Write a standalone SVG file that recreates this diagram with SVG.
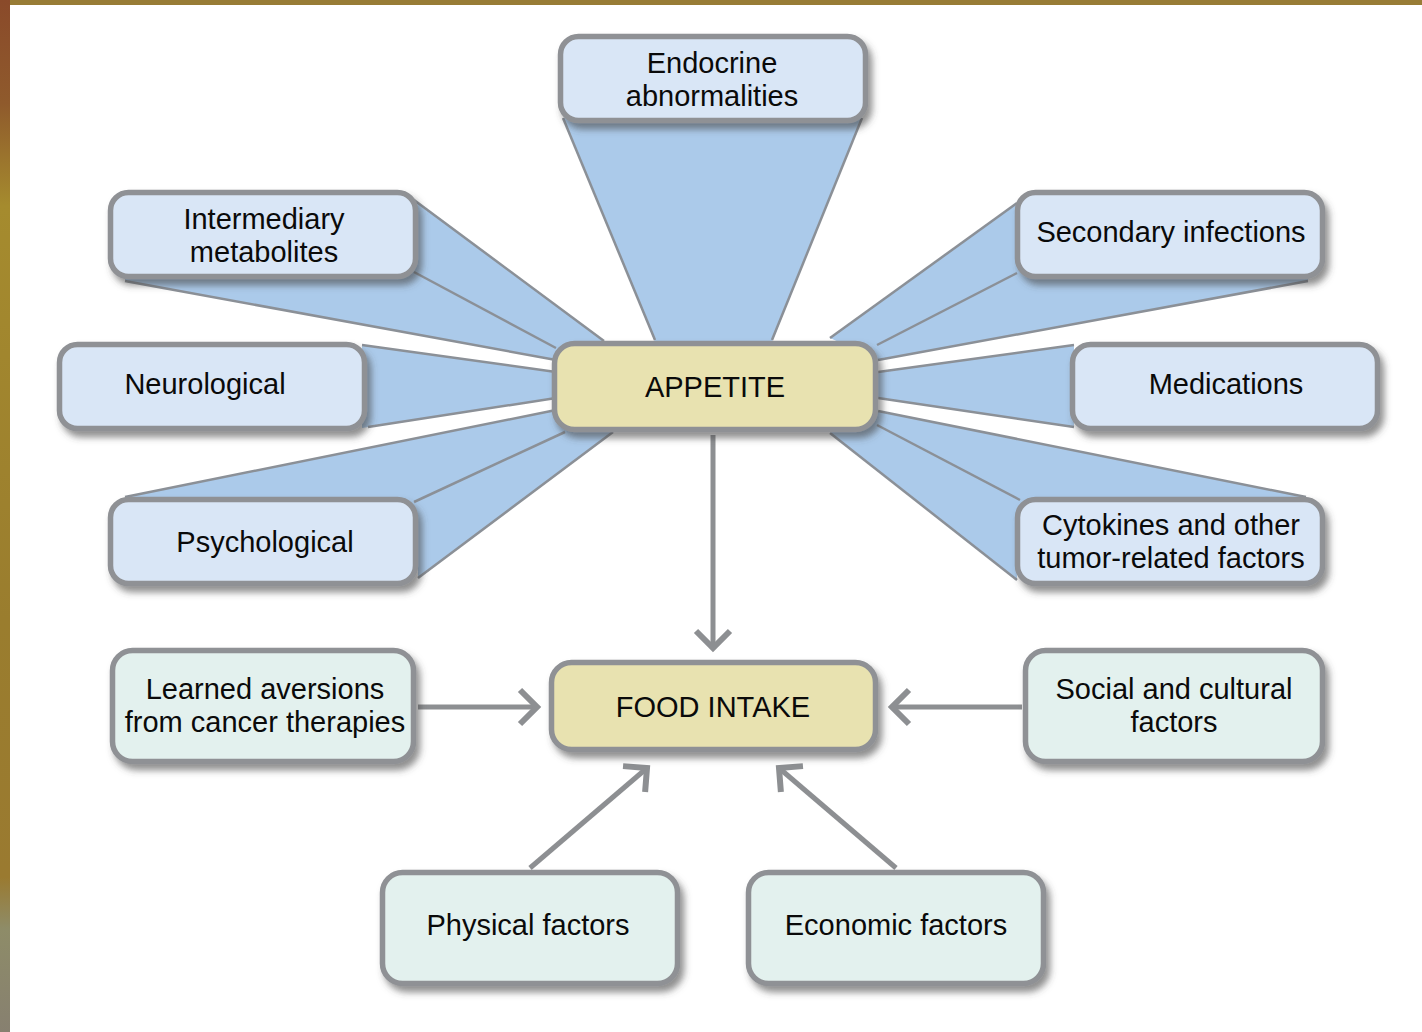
<svg xmlns="http://www.w3.org/2000/svg" width="1422" height="1032" viewBox="0 0 1422 1032">
<defs>
<style>
.box{stroke:#8f9195;stroke-width:5.5;filter:url(#sh)}
.blue{fill:#d9e6f6}
.tan{fill:#e8e2b0}
.mint{fill:#e3f1ee}
.fan{fill:#abcaea}
.edge{stroke:#8b9097;stroke-width:2.5;fill:none}
.arr{stroke:#8d8f92;stroke-width:5;fill:none;marker-end:url(#chev)}
text{font-family:"Liberation Sans",Arial,sans-serif;font-size:29px;fill:#0a0a0a;text-anchor:middle}
</style>
<filter id="sh" x="-10%" y="-20%" width="130%" height="150%">
<feDropShadow dx="4" dy="6" stdDeviation="3.5" flood-color="#444" flood-opacity="0.6"/>
</filter>
<marker id="chev" markerUnits="userSpaceOnUse" viewBox="-24 -24 48 48" markerWidth="48" markerHeight="48" refX="0" refY="0" orient="auto">
<path d="M-17,-17 L0,0 L-17,17" fill="none" stroke="#8d8f92" stroke-width="6"/>
</marker>
<linearGradient id="lb" x1="0" y1="0" x2="0" y2="1">
<stop offset="0" stop-color="#8a4a2a"/>
<stop offset="0.1" stop-color="#8f5a2c"/>
<stop offset="0.2" stop-color="#a58b2e"/>
<stop offset="0.6" stop-color="#9a7d2e"/>
<stop offset="0.85" stop-color="#9a7a30"/>
<stop offset="0.9" stop-color="#8e8c68"/>
<stop offset="1" stop-color="#878070"/>
</linearGradient>
</defs>
<rect x="0" y="0" width="1422" height="1032" fill="#ffffff"/>
<rect x="0" y="0" width="1422" height="5" fill="#987c36"/>
<rect x="0" y="0" width="10" height="1032" fill="url(#lb)"/>

<g id="fans">
<polygon class="fan" points="563,118 862,118 772,342 655,342"/>
<polygon class="fan" points="414,200 604,341 556,360 125,281 125,240 414,240"/>
<polygon class="fan" points="362,345 556,372 556,398 362,428"/>
<polygon class="fan" points="125,497 556,410 613,432 418,578 418,540 125,540"/>
<polygon class="fan" points="1017,203 830,338 878,360 1308,281 1308,240 1017,240"/>
<polygon class="fan" points="1074,345 878,372 878,398 1074,427"/>
<polygon class="fan" points="1306,497 878,411 830,433 1017,580 1017,540 1306,540"/>
<g class="edge">
<line x1="563" y1="118" x2="655" y2="340"/>
<line x1="862" y1="118" x2="772" y2="340"/>
<line x1="414" y1="200" x2="604" y2="341"/>
<line x1="414" y1="272" x2="556" y2="348"/>
<line x1="125" y1="281" x2="556" y2="360"/>
<line x1="362" y1="345" x2="556" y2="372"/>
<line x1="368" y1="427" x2="556" y2="398"/>
<line x1="125" y1="497" x2="556" y2="410"/>
<line x1="414" y1="502" x2="565" y2="432"/>
<line x1="418" y1="578" x2="613" y2="432"/>
<line x1="1017" y1="203" x2="830" y2="338"/>
<line x1="1017" y1="273" x2="877" y2="345"/>
<line x1="1308" y1="281" x2="878" y2="360"/>
<line x1="1074" y1="345" x2="878" y2="372"/>
<line x1="1074" y1="427" x2="878" y2="398"/>
<line x1="1306" y1="497" x2="878" y2="411"/>
<line x1="1020" y1="500" x2="877" y2="425"/>
<line x1="1017" y1="580" x2="830" y2="433"/>
</g>
</g>

<g id="connectors">
<line class="arr" x1="713" y1="435" x2="713" y2="648"/>
<line class="arr" x1="418" y1="707" x2="537" y2="707"/>
<line class="arr" x1="1022" y1="707" x2="892" y2="707"/>
<line class="arr" x1="530" y1="868" x2="647" y2="768"/>
<line class="arr" x1="896" y1="868" x2="779" y2="768"/>
</g>

<g id="endocrine"><rect class="box blue" x="560.5" y="36.5" width="305" height="84" rx="18"/><text x="712" y="73">Endocrine</text><text x="712" y="106">abnormalities</text></g>
<g id="intermediary"><rect class="box blue" x="110.5" y="192.5" width="305" height="84" rx="18"/><text x="264" y="229">Intermediary</text><text x="264" y="262">metabolites</text></g>
<g id="neurological"><rect class="box blue" x="59.5" y="344.5" width="305" height="84" rx="18"/><text x="205" y="394">Neurological</text></g>
<g id="psychological"><rect class="box blue" x="110.5" y="499.5" width="305" height="84" rx="18"/><text x="265" y="552">Psychological</text></g>
<g id="secondary"><rect class="box blue" x="1017.5" y="192.5" width="305" height="84" rx="18"/><text x="1171" y="242">Secondary infections</text></g>
<g id="medications"><rect class="box blue" x="1072.5" y="344.5" width="305" height="84" rx="18"/><text x="1226" y="394">Medications</text></g>
<g id="cytokines"><rect class="box blue" x="1017.5" y="499.5" width="305" height="84" rx="18"/><text x="1171" y="535">Cytokines and other</text><text x="1171" y="568">tumor-related factors</text></g>
<g id="appetite"><rect class="box tan" x="554.5" y="343.5" width="321" height="86" rx="20"/><text x="715" y="397">APPETITE</text></g>
<g id="food"><rect class="box tan" x="551.5" y="662.5" width="324" height="87" rx="20"/><text x="713" y="717">FOOD INTAKE</text></g>
<g id="learned"><rect class="box mint" x="112.5" y="650.5" width="301" height="111" rx="20"/><text x="265" y="699">Learned aversions</text><text x="265" y="732">from cancer therapies</text></g>
<g id="social"><rect class="box mint" x="1025.5" y="650.5" width="297" height="111" rx="20"/><text x="1174" y="699">Social and cultural</text><text x="1174" y="732">factors</text></g>
<g id="physical"><rect class="box mint" x="382.5" y="872.5" width="295" height="111" rx="20"/><text x="528" y="935">Physical factors</text></g>
<g id="economic"><rect class="box mint" x="748.5" y="872.5" width="295" height="111" rx="20"/><text x="896" y="935">Economic factors</text></g>
</svg>
